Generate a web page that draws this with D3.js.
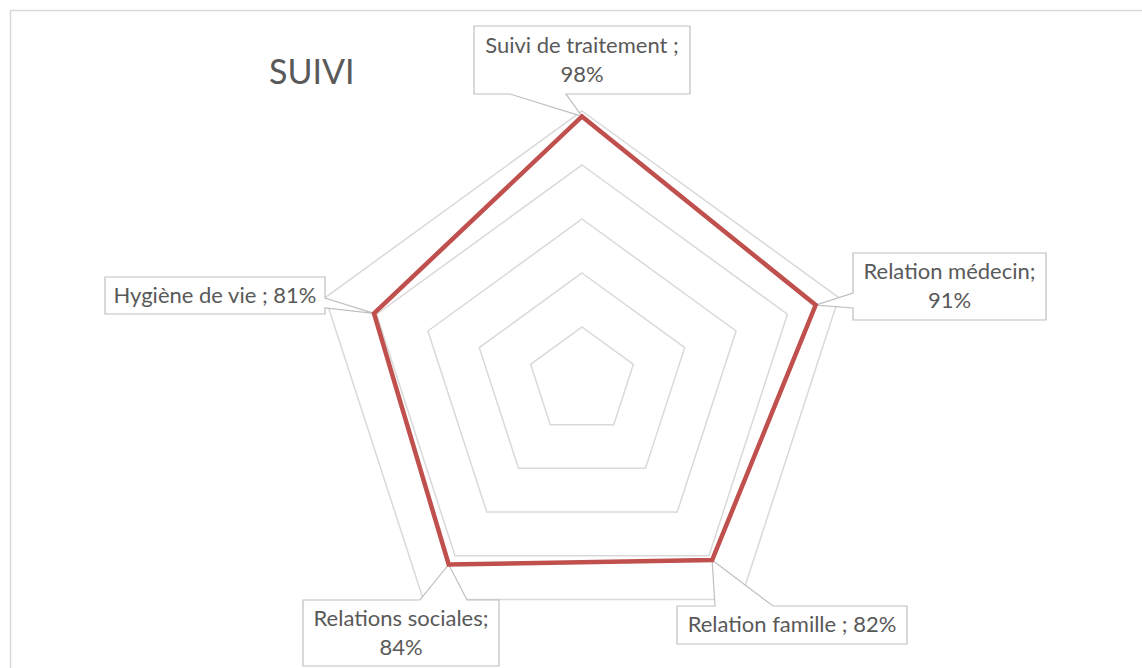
<!DOCTYPE html>
<html lang="fr">
<head>
<meta charset="utf-8">
<title>SUIVI</title>
<script src="https://cdn.jsdelivr.net/npm/d3@7"></script>
<style>
  html, body { margin: 0; padding: 0; background: white; }
  svg { display: block; font-family: Lato, "Open Sans", sans-serif; }
</style>
</head>
<body>
<script>
// data
var categories = ["Suivi de traitement", "Relation médecin", "Relation famille", "Relations sociales", "Hygiène de vie"];
var values = [0.98, 0.91, 0.82, 0.84, 0.81];
var gridLevels = [0.2, 0.4, 0.6, 0.8, 1.0];
// label text lines (as shown in the callouts)
var labelLines = [
  ["Suivi de traitement ;", "98%"],
  ["Relation médecin;", "91%"],
  ["Relation famille ; 82%"],
  ["Relations sociales;", "84%"],
  ["Hygiène de vie ; 81%"]
];

// layout
var w = 1142, h = 668;
var cx = 582, cy = 381, R = 270;
// callout boxes: x, y, width, height, edge of the wedge, wedge start/end along that edge
var callouts = [
  {x: 474, y: 26, w: 216, h: 68, edge: "bottom", a: 510, b: 566},
  {x: 853, y: 253, w: 193, h: 67, edge: "left", a: 293, b: 308},
  {x: 677, y: 606, w: 230, h: 38, edge: "top", a: 715, b: 773},
  {x: 303, y: 600, w: 196, h: 66, edge: "top", a: 420, b: 467},
  {x: 105, y: 277, w: 220, h: 37, edge: "right", a: 298, b: 308}
];

var svg = d3.select("body").append("svg")
  .attr("width", w)
  .attr("height", h);

// chart area border (right / bottom run off the picture)
svg.append("rect")
  .attr("x", 10.5).attr("y", 10.5)
  .attr("width", w + 20).attr("height", h + 20)
  .attr("fill", "white")
  .attr("stroke", "#d9d9d9")
  .attr("stroke-width", 1.5);

var r = d3.scaleLinear().domain([0, 1]).range([0, R]);
var angle = d3.scaleLinear().domain([0, categories.length]).range([0, 2 * Math.PI]);

function pt(i, v) {
  var a = angle(i) - Math.PI / 2;
  return [cx + r(v) * Math.cos(a), cy + r(v) * Math.sin(a)];
}

var closedLine = d3.line().curve(d3.curveLinearClosed);

// grid pentagons
svg.append("g").selectAll("path")
  .data(gridLevels)
  .enter()
  .append("path")
  .attr("d", function(lv) {
    return closedLine(categories.map(function(c, i) { return pt(i, lv); }));
  })
  .attr("fill", "none")
  .attr("stroke", "#d9d9d9")
  .attr("stroke-width", 1.5);

// callouts
function calloutPath(c, tip) {
  var x0 = c.x, y0 = c.y, x1 = c.x + c.w, y1 = c.y + c.h;
  var p = [[x0, y0]];
  if (c.edge == "top") { p.push([c.a, y0], tip, [c.b, y0]); }
  p.push([x1, y0]);
  if (c.edge == "right") { p.push([x1, c.a], tip, [x1, c.b]); }
  p.push([x1, y1]);
  if (c.edge == "bottom") { p.push([c.b, y1], tip, [c.a, y1]); }
  p.push([x0, y1]);
  if (c.edge == "left") { p.push([x0, c.b], tip, [x0, c.a]); }
  return closedLine(p);
}

var lab = svg.append("g").selectAll("g")
  .data(categories)
  .enter()
  .append("g");

lab.append("path")
  .attr("d", function(d, i) { return calloutPath(callouts[i], pt(i, values[i])); })
  .attr("fill", "white")
  .attr("stroke", "#bfbfbf")
  .attr("stroke-width", 1.2);

lab.each(function(d, i) {
  var c = callouts[i];
  var lines = labelLines[i];
  var lineH = 29;
  var top = c.y + c.h / 2 - (lines.length * lineH) / 2;
  d3.select(this).selectAll("text")
    .data(lines)
    .enter()
    .append("text")
    .attr("x", c.x + c.w / 2)
    .attr("y", function(t, j) { return top + j * lineH + lineH / 2 + 7; })
    .attr("text-anchor", "middle")
    .attr("font-size", "22px")
    .attr("fill", "#595959")
    .text(function(t) { return t; });
});

// series line
svg.append("path")
  .attr("d", closedLine(values.map(function(v, i) { return pt(i, v); })))
  .attr("fill", "none")
  .attr("stroke", "#c0504d")
  .attr("stroke-width", 4.5)
  .attr("stroke-linejoin", "miter");

// title
svg.append("text")
  .attr("x", 269)
  .attr("y", 84)
  .attr("font-size", "34px")
  .attr("fill", "#595959")
  .text("SUIVI");
</script>
</body>
</html>
